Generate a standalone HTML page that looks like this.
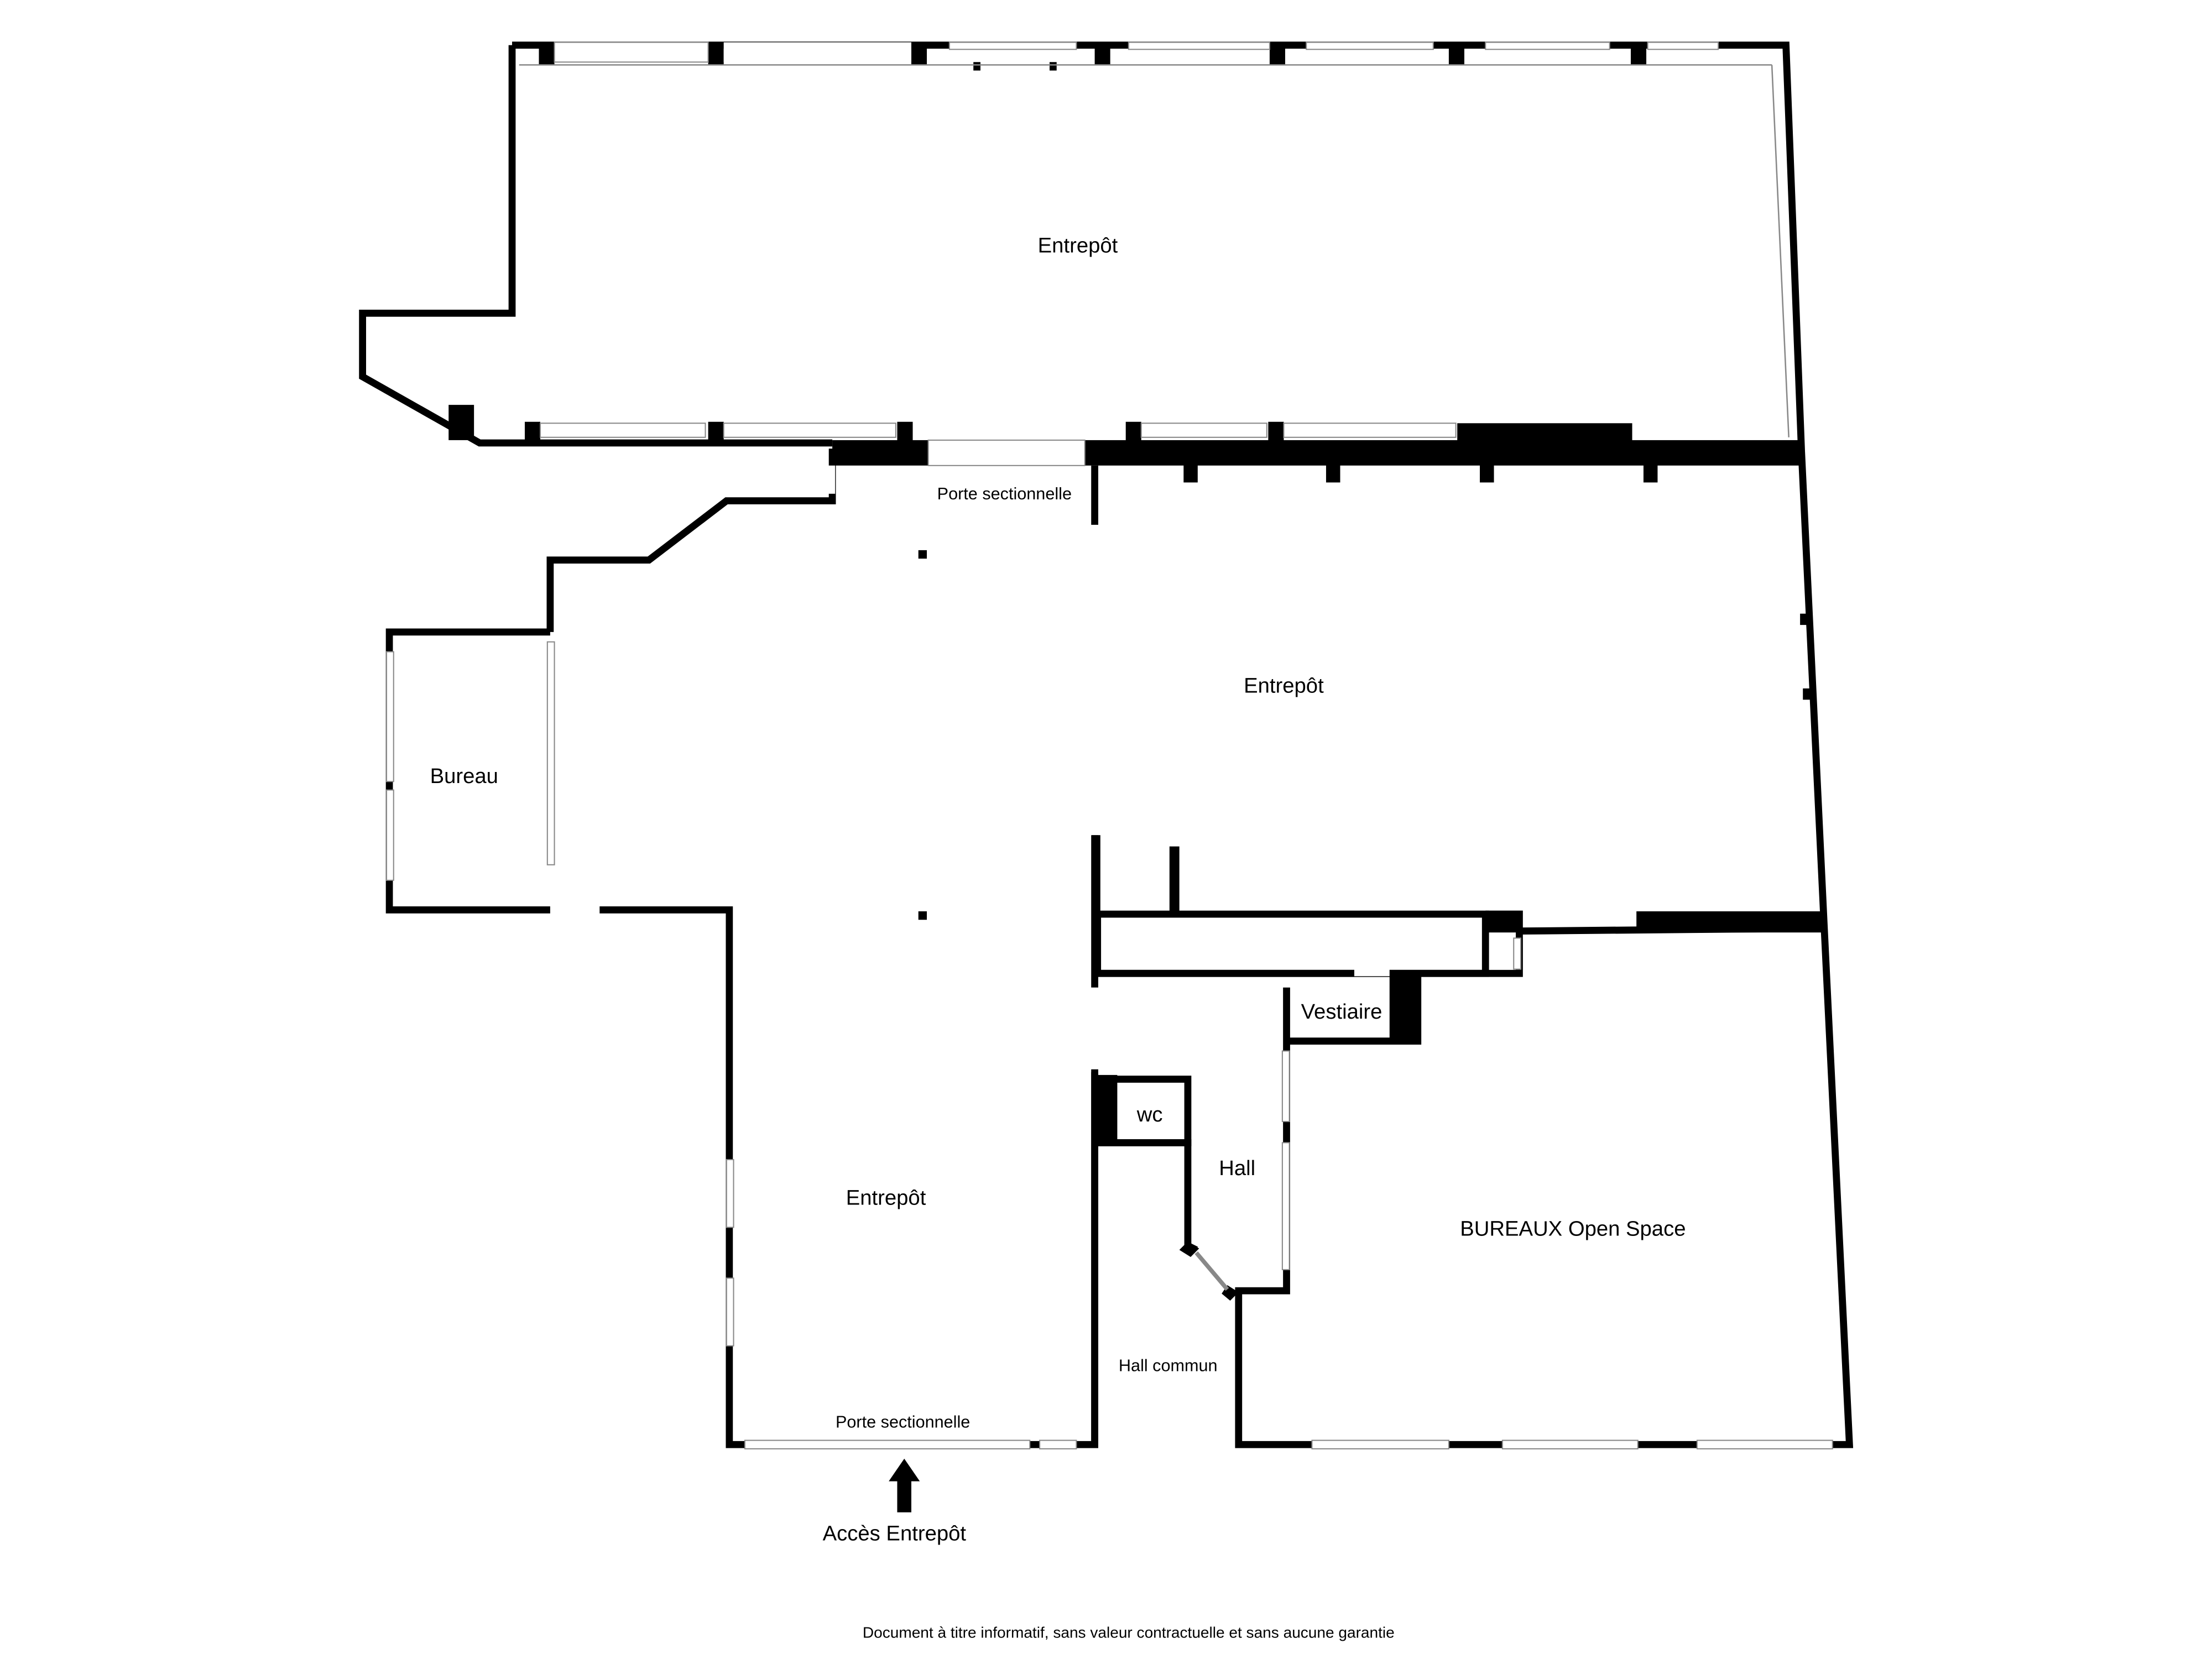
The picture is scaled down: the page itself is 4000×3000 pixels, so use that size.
<!DOCTYPE html>
<html><head><meta charset="utf-8"><style>
html,body{margin:0;padding:0;background:#fff;}
svg{display:block;}
text{font-family:"Liberation Sans","DejaVu Sans",sans-serif;fill:#000;}
</style></head><body>
<svg width="4000" height="3000" viewBox="0 0 1568 1176" xmlns="http://www.w3.org/2000/svg">
<rect width="1568" height="1176" fill="#fff"/>
<g fill="none" stroke="#000" stroke-width="5" stroke-linejoin="miter">
<polyline points="363,32 1266,32 1277,320"/>
<polyline points="363,32 363,222 257,222 257,267 340,314 590,314"/>
<polyline points="1277,320 1293,655 1311,1024 878,1024 878,915 912,915 912,700"/>
<polyline points="590,318 590,355 515,355 460,397 390,397 390,448"/>
<polyline points="390,448 276,448 276,645 390,645"/>
<polyline points="425,645 517,645 517,1024 776,1024 776,592"/>
<line x1="776" y1="330" x2="776" y2="372"/>
<rect x="778" y="648" width="275" height="42" stroke-width="5"/>
<polyline points="1053,648 1077,648 1077,690 778,690"/>
<line x1="1077" y1="660" x2="1293" y2="658"/>
<polyline points="778,765 842,765 842,810 778,810"/>
<polyline points="778,810 842,810 842,883 848,886"/>
<line x1="776" y1="760" x2="776" y2="1024"/>
<polyline points="912,738 1005,738 1005,690"/>
</g>
<g fill="#000">
<rect x="590" y="312" width="68" height="18"/>
<rect x="769" y="312" width="510" height="18"/>
<rect x="1033" y="300" width="124" height="14"/>
<rect x="318" y="287" width="18" height="25"/>
<rect x="1160" y="646" width="133" height="15"/>
<rect x="1053" y="646" width="24" height="15"/>
<rect x="985" y="688" width="22" height="50"/>
<rect x="776" y="762" width="16" height="48"/>
<rect x="829" y="600" width="7" height="48"/>
<rect x="774" y="592" width="6" height="100"/>
<rect x="839" y="326" width="10" height="16"/>
<rect x="940" y="326" width="10" height="16"/>
<rect x="1049" y="326" width="10" height="16"/>
<rect x="1165" y="326" width="10" height="16"/>
<rect x="651" y="390" width="6" height="6"/>
<rect x="651" y="646" width="6" height="6"/>
<rect x="690" y="44" width="5" height="6"/>
<rect x="744" y="44" width="5" height="6"/>
<rect x="1276" y="435" width="6" height="8"/>
<rect x="1278" y="488" width="6" height="8"/>
<rect x="382" y="30" width="11" height="16"/>
<rect x="502" y="30" width="11" height="16"/>
<rect x="646" y="30" width="11" height="16"/>
<rect x="776" y="30" width="11" height="16"/>
<rect x="900" y="30" width="11" height="16"/>
<rect x="1027" y="30" width="11" height="16"/>
<rect x="1156" y="30" width="11" height="16"/>
<rect x="372" y="299" width="11" height="15"/>
<rect x="502" y="299" width="11" height="15"/>
<rect x="636" y="299" width="11" height="15"/>
<rect x="798" y="299" width="11" height="15"/>
<rect x="899" y="299" width="11" height="15"/>
<polygon points="842,880 850,885 844,891 836,886"/>
<polygon points="870,911 878,916 872,922 866,917"/>
</g>
<g fill="#fff" stroke="#888" stroke-width="0.8">
<rect x="658" y="312" width="111" height="18"/>
<rect x="393" y="30" width="109" height="14"/>
<rect x="513" y="30" width="133" height="14" stroke="none"/>
<rect x="673" y="30" width="90" height="5"/>
<rect x="800" y="30" width="100" height="5"/>
<rect x="926" y="30" width="90" height="5"/>
<rect x="1053" y="30" width="88" height="5"/>
<rect x="1168" y="30" width="50" height="5"/>
<rect x="383" y="300" width="117" height="10"/>
<rect x="513" y="300" width="122" height="10"/>
<rect x="809" y="300" width="89" height="10"/>
<rect x="910" y="300" width="122" height="10"/>
<rect x="274" y="462" width="5" height="92"/>
<rect x="274" y="560" width="5" height="64"/>
<rect x="388" y="455" width="5" height="158"/>
<rect x="395" y="642" width="30" height="6" stroke="none"/>
<rect x="515" y="822" width="5" height="48"/>
<rect x="515" y="906" width="5" height="48"/>
<rect x="528" y="1021" width="202" height="6"/>
<rect x="737" y="1021" width="26" height="6"/>
<rect x="930" y="1021" width="97" height="6"/>
<rect x="1065" y="1021" width="96" height="6"/>
<rect x="1203" y="1021" width="96" height="6"/>
<rect x="909" y="810" width="5" height="90"/>
<rect x="909" y="745" width="5" height="50"/>
<rect x="773" y="700" width="6" height="58" stroke="none"/>
<rect x="960" y="686" width="25" height="6" stroke="none"/>
<rect x="587" y="330" width="5" height="20" stroke="none"/>
<rect x="1073" y="665" width="5" height="22"/>
</g>
<line x1="368" y1="46" x2="1256" y2="46" stroke="#888" stroke-width="1"/>
<line x1="1256" y1="46" x2="1268" y2="310" stroke="#888" stroke-width="1"/>
<line x1="848" y1="888" x2="870" y2="914" stroke="#888" stroke-width="3"/>
<polygon points="641,1034 652,1050 646,1050 646,1072 636,1072 636,1050 630,1050" fill="#000"/>
<g font-size="15" text-anchor="middle">
<text x="764" y="179">Entrepôt</text>
<text x="910" y="491">Entrepôt</text>
<text x="628" y="854">Entrepôt</text>
<text x="329" y="555">Bureau</text>
<text x="951" y="722">Vestiaire</text>
<text x="815" y="795">wc</text>
<text x="877" y="833">Hall</text>
<text x="1115" y="876">BUREAUX Open Space</text>
<text x="634" y="1092">Accès Entrepôt</text>
</g>
<g font-size="12" text-anchor="middle">
<text x="712" y="354">Porte sectionnelle</text>
<text x="640" y="1012">Porte sectionnelle</text>
<text x="828" y="972">Hall commun</text>
<text x="800" y="1161" font-size="11">Document à titre informatif, sans valeur contractuelle et sans aucune garantie</text>
</g>
</svg>
</body></html>
